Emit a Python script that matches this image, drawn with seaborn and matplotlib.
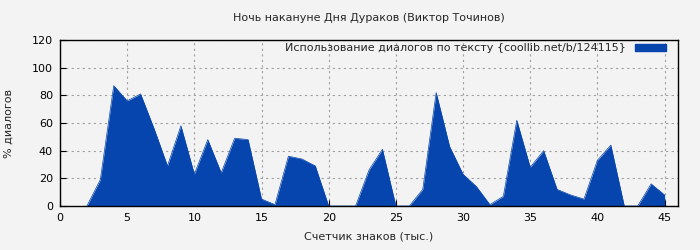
import matplotlib
matplotlib.use("Agg")
import matplotlib.pyplot as plt
import matplotlib.patches as mpatches
import seaborn as sns
import pandas as pd

x_thousands = list(range(2, 46))
dialog_pct = [0, 19, 87, 76, 81, 56, 29, 58, 23, 48, 24, 49, 48, 5, 1, 36, 34, 29,
              0, 0, 0, 26, 41, 0, 0, 12, 82, 43, 23, 14, 1, 7, 62, 28, 40, 12, 8, 5,
              33, 44, 0, 0, 16, 8]
title = "Ночь накануне Дня Дураков (Виктор Точинов)"
xlabel = "Счетчик знаков (тыс.)"
ylabel = "% диалогов"
legend_label = "Использование диалогов по тексту {coollib.net/b/124115}"
xticks = [0, 5, 10, 15, 20, 25, 30, 35, 40, 45]
yticks = [0, 20, 40, 60, 80, 100, 120]

df = pd.DataFrame({"x": x_thousands, "y": dialog_pct})

sns.set_theme(style="white")
plt.rcParams['font.family'] = ['DejaVu Sans']
bg = "#f3f3f3"
color = "#0645ad"

fig = plt.figure(figsize=(7, 2.5), dpi=100, facecolor=bg)
ax = fig.add_axes([60/700, 44/250, 618/700, 166/250])
ax.set_facecolor(bg)

sns.lineplot(data=df, x="x", y="y", ax=ax, color=color, linewidth=0.5, zorder=2)
ax.fill_between(df["x"], df["y"], 0, color=color, linewidth=0, zorder=2)

ax.set_xlim(0, 46)
ax.set_ylim(0, 120)
ax.set_xticks(xticks)
ax.set_yticks(yticks)
ax.set_axisbelow(True)
ax.grid(True, linestyle=(0, (2, 3)), color="#a0a0a0", linewidth=0.8, zorder=0)
for s in ax.spines.values():
    s.set_color("black")
    s.set_linewidth(1.0)
    s.set_zorder(3)
ax.tick_params(axis="both", direction="in", length=4, width=0.8, colors="black",
               labelsize=8, pad=5, bottom=True, left=True)

ax.set_title(title, fontsize=8, pad=14)
ax.set_xlabel(xlabel, fontsize=8, labelpad=6)
ax.set_ylabel(ylabel, fontsize=8, labelpad=13)

handle = mpatches.Patch(color=color, label=legend_label)
ax.legend(handles=[handle], loc="upper right", frameon=False, fontsize=8,
          markerfirst=False, handlelength=2.8, handleheight=0.6,
          bbox_to_anchor=(0.989, 1.015), borderaxespad=0.1, handletextpad=0.8)

fig.savefig("out.png", dpi=100, facecolor=bg)
